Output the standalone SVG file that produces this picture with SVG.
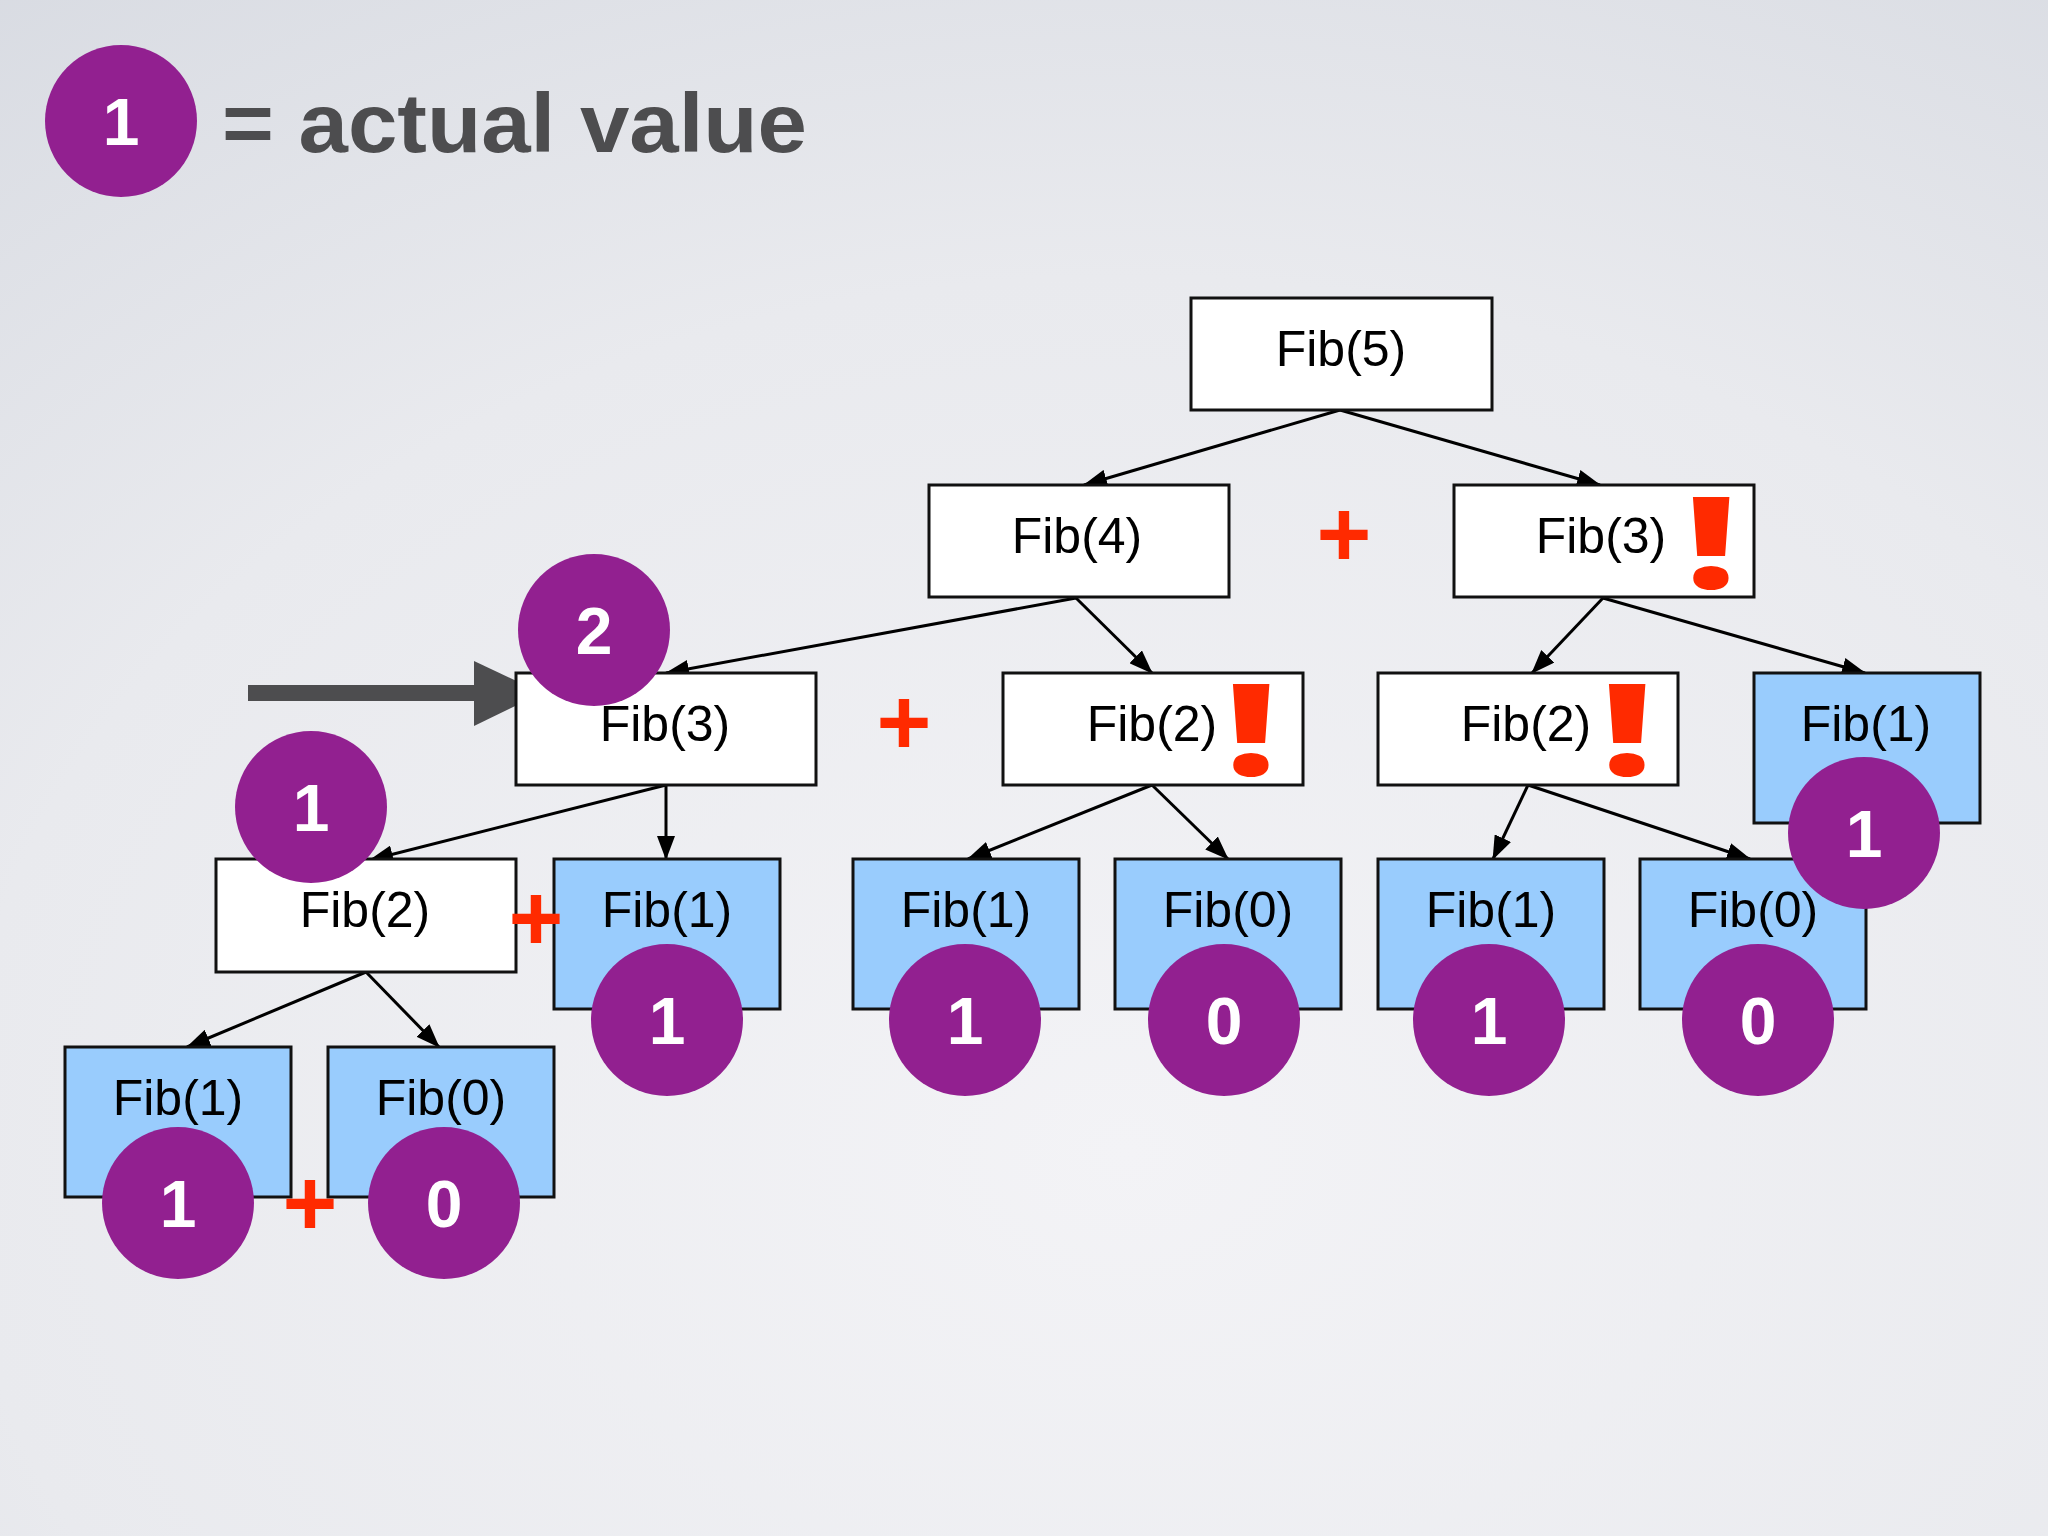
<svg xmlns="http://www.w3.org/2000/svg" width="2048" height="1536" viewBox="0 0 2048 1536">
<defs>
<radialGradient id="bg" cx="0.55" cy="0.75" r="0.95">
<stop offset="0" stop-color="#f3f3f6"/>
<stop offset="0.6" stop-color="#e9eaee"/>
<stop offset="1" stop-color="#d8dbe2"/>
</radialGradient>
<marker id="ah" markerWidth="24" markerHeight="18" refX="23" refY="9" orient="auto" markerUnits="userSpaceOnUse">
<path d="M0,0 L24,9 L0,18 Z" fill="#000"/>
</marker>
<style>
.w{fill:#ffffff;stroke:#111;stroke-width:3}
.b{fill:#99ccfd;stroke:#111;stroke-width:3}
.lbl{font-family:"Liberation Sans",Arial,sans-serif;font-size:50px;fill:#000;text-anchor:middle}
.e{stroke:#000;stroke-width:3;fill:none;marker-end:url(#ah)}
.c{fill:#922090}
.v{font-family:"Liberation Sans",Arial,sans-serif;font-weight:bold;font-size:66px;fill:#fff;text-anchor:middle}
.plus{font-family:"Liberation Sans",Arial,sans-serif;font-weight:bold;font-size:94px;fill:#ff2a00;text-anchor:middle}
.ex{font-family:"Open Sans","Liberation Sans",sans-serif;font-weight:800;font-size:128px;fill:#ff2a00;text-anchor:middle}
</style>
</defs>
<rect width="2048" height="1536" fill="url(#bg)"/>

<g id="legend">
<circle class="c" cx="121" cy="121" r="76"/>
<text class="v" x="121" y="145">1</text>
<text x="222" y="152" font-family="Liberation Sans,Arial,sans-serif" font-weight="bold" font-size="84" fill="#4d4d4f" textLength="585" lengthAdjust="spacingAndGlyphs">= actual value</text>
</g>

<g id="pointer">
<rect x="248" y="685" width="232" height="16" fill="#4d4d4f"/>
<path d="M474,661 L542,693 L474,726 Z" fill="#4d4d4f"/>
</g>

<g id="connectors">
<line class="e" x1="1340" y1="410" x2="1084" y2="485"/>
<line class="e" x1="1340" y1="410" x2="1600" y2="485"/>
<line class="e" x1="1076" y1="598" x2="666" y2="673"/>
<line class="e" x1="1076" y1="598" x2="1152" y2="673"/>
<line class="e" x1="1603" y1="598" x2="1532" y2="673"/>
<line class="e" x1="1603" y1="598" x2="1865" y2="673"/>
<line class="e" x1="666" y1="785" x2="370" y2="860"/>
<line class="e" x1="666" y1="785" x2="666" y2="859"/>
<line class="e" x1="1152" y1="785" x2="968" y2="859"/>
<line class="e" x1="1152" y1="785" x2="1228" y2="859"/>
<line class="e" x1="1528" y1="785" x2="1493" y2="859"/>
<line class="e" x1="1528" y1="785" x2="1750" y2="859"/>
<line class="e" x1="366" y1="972" x2="187" y2="1047"/>
<line class="e" x1="366" y1="972" x2="439" y2="1047"/>
</g>

<g id="fib5"><rect class="w" x="1191" y="298" width="301" height="112"/><text class="lbl" x="1341" y="366">Fib(5)</text></g>
<g id="fib4"><rect class="w" x="929" y="485" width="300" height="112"/><text class="lbl" x="1077" y="553">Fib(4)</text></g>
<g id="fib3r"><rect class="w" x="1454" y="485" width="300" height="112"/><text class="lbl" x="1601" y="553">Fib(3)</text></g>
<g id="fib3l"><rect class="w" x="516" y="673" width="300" height="112"/><text class="lbl" x="665" y="741">Fib(3)</text></g>
<g id="fib2m"><rect class="w" x="1003" y="673" width="300" height="112"/><text class="lbl" x="1152" y="741">Fib(2)</text></g>
<g id="fib2r"><rect class="w" x="1378" y="673" width="300" height="112"/><text class="lbl" x="1526" y="741">Fib(2)</text></g>
<g id="fib1fr"><rect class="b" x="1754" y="673" width="226" height="150"/><text class="lbl" x="1866" y="741">Fib(1)</text></g>
<g id="fib2l"><rect class="w" x="216" y="859" width="300" height="113"/><text class="lbl" x="365" y="927">Fib(2)</text></g>
<g id="fib1a"><rect class="b" x="554" y="859" width="226" height="150"/><text class="lbl" x="667" y="927">Fib(1)</text></g>
<g id="fib1b"><rect class="b" x="853" y="859" width="226" height="150"/><text class="lbl" x="966" y="927">Fib(1)</text></g>
<g id="fib0b"><rect class="b" x="1115" y="859" width="226" height="150"/><text class="lbl" x="1228" y="927">Fib(0)</text></g>
<g id="fib1c"><rect class="b" x="1378" y="859" width="226" height="150"/><text class="lbl" x="1491" y="927">Fib(1)</text></g>
<g id="fib0c"><rect class="b" x="1640" y="859" width="226" height="150"/><text class="lbl" x="1753" y="927">Fib(0)</text></g>
<g id="fib1d"><rect class="b" x="65" y="1047" width="226" height="150"/><text class="lbl" x="178" y="1115">Fib(1)</text></g>
<g id="fib0d"><rect class="b" x="328" y="1047" width="226" height="150"/><text class="lbl" x="441" y="1115">Fib(0)</text></g>

<g id="marks">
<text class="plus" x="1344" y="566">+</text>
<text class="plus" x="904" y="754">+</text>
<text class="plus" x="536" y="950">+</text>
<text class="plus" x="310" y="1235">+</text>
<text class="ex" transform="translate(1711,588) scale(1.35,1)" x="0" y="0">!</text>
<text class="ex" transform="translate(1251,775) scale(1.35,1)" x="0" y="0">!</text>
<text class="ex" transform="translate(1627,775) scale(1.35,1)" x="0" y="0">!</text>
</g>

<g id="values">
<g id="v2"><circle class="c" cx="594" cy="630" r="76"/><text class="v" x="594" y="654">2</text></g>
<g id="v-fib2l"><circle class="c" cx="311" cy="807" r="76"/><text class="v" x="311" y="831">1</text></g>
<g id="v-fib1a"><circle class="c" cx="667" cy="1020" r="76"/><text class="v" x="667" y="1044">1</text></g>
<g id="v-fib1b"><circle class="c" cx="965" cy="1020" r="76"/><text class="v" x="965" y="1044">1</text></g>
<g id="v-fib0b"><circle class="c" cx="1224" cy="1020" r="76"/><text class="v" x="1224" y="1044">0</text></g>
<g id="v-fib1c"><circle class="c" cx="1489" cy="1020" r="76"/><text class="v" x="1489" y="1044">1</text></g>
<g id="v-fib0c"><circle class="c" cx="1758" cy="1020" r="76"/><text class="v" x="1758" y="1044">0</text></g>
<g id="v-fib1fr"><circle class="c" cx="1864" cy="833" r="76"/><text class="v" x="1864" y="857">1</text></g>
<g id="v-fib1d"><circle class="c" cx="178" cy="1203" r="76"/><text class="v" x="178" y="1227">1</text></g>
<g id="v-fib0d"><circle class="c" cx="444" cy="1203" r="76"/><text class="v" x="444" y="1227">0</text></g>
</g>
</svg>
